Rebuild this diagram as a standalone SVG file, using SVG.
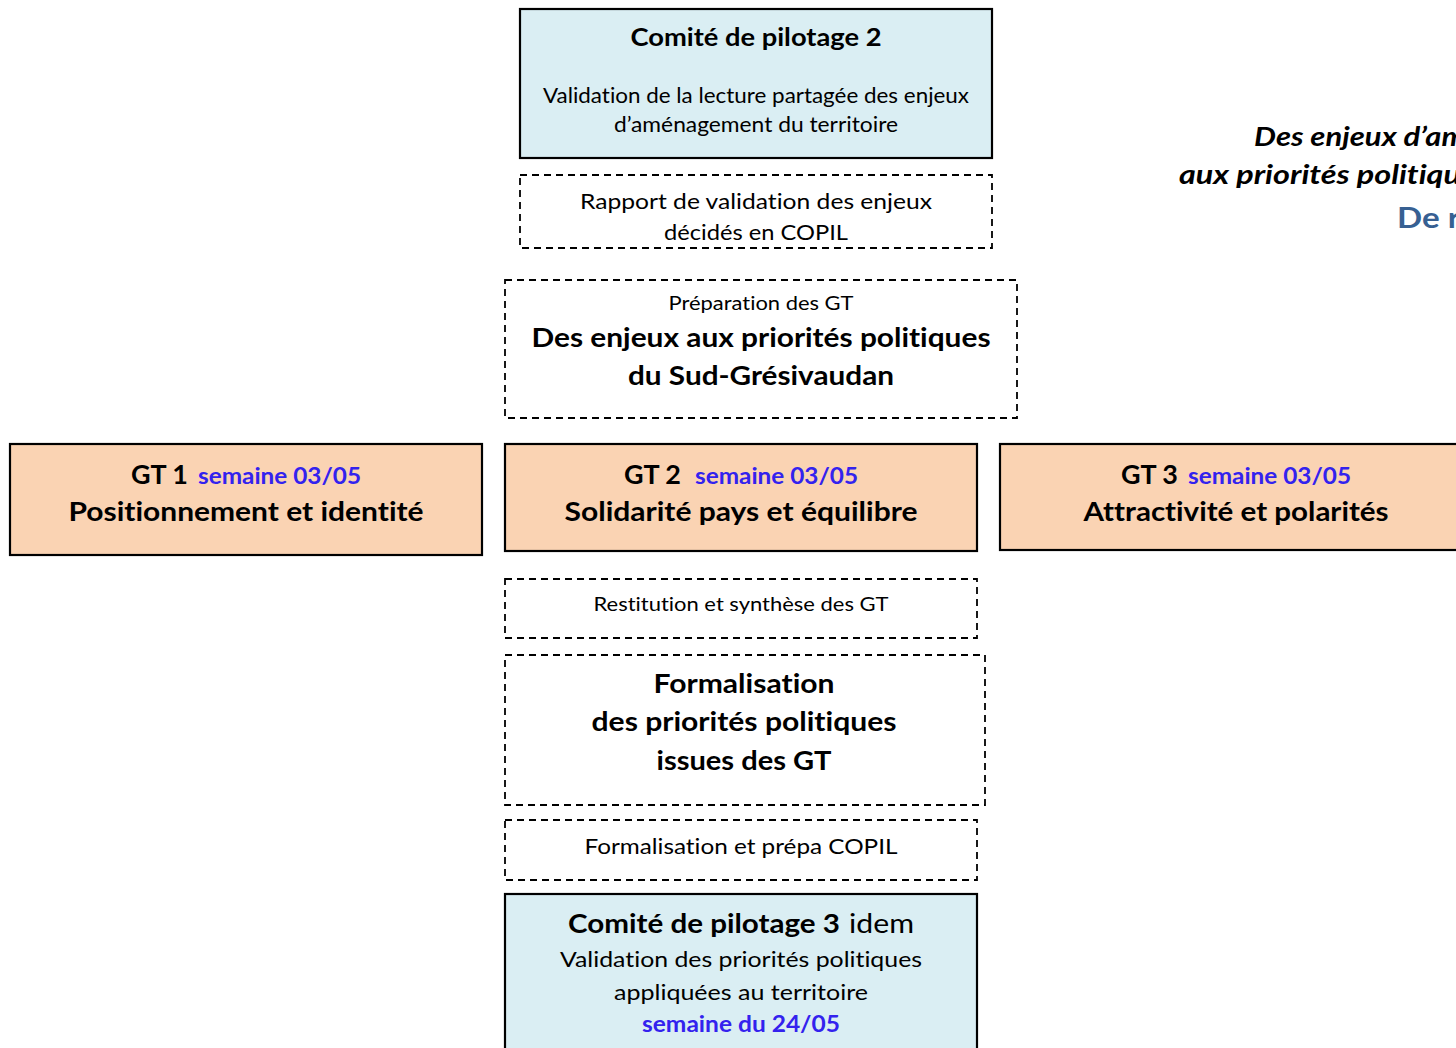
<svg xmlns="http://www.w3.org/2000/svg" width="1456" height="1048" viewBox="0 0 1456 1048">
<style>
text{font-family:Lato,"Open Sans","Liberation Sans",sans-serif;fill:#000;text-anchor:middle;font-variant-ligatures:none}
.b{font-weight:bold}
.s{text-anchor:start}
.blue{fill:#3322EE;font-weight:bold}
.copil{fill:#DAEEF3;stroke:#000;stroke-width:2.2}
.gt{fill:#FAD3B3;stroke:#000;stroke-width:2.2}
.dash{fill:none;stroke:#000;stroke-width:1.8;stroke-dasharray:7 5}
.title{font-weight:bold;font-style:italic;text-anchor:start;font-size:26px}
</style>
<rect width="1456" height="1048" fill="#fff"/>
<g id="title">
<text class="title" x="1254" y="146" textLength="212" lengthAdjust="spacingAndGlyphs">Des enjeux d’am</text>
<text class="title" x="1179" y="184" textLength="282" lengthAdjust="spacingAndGlyphs">aux priorités politiqu</text>
<text x="1397" y="228" textLength="63" lengthAdjust="spacingAndGlyphs" style="text-anchor:start;font-weight:bold;font-size:29px;fill:#376092">De r</text>
</g>
<g id="copil2">
<rect class="copil" x="520" y="9" width="472" height="149"/>
<text class="b" x="756" y="46" font-size="25" textLength="251" lengthAdjust="spacingAndGlyphs">Comité de pilotage 2</text>
<text x="756" y="103" font-size="20.5" textLength="426" lengthAdjust="spacingAndGlyphs">Validation de la lecture partagée des enjeux</text>
<text x="756" y="132" font-size="20.5" textLength="284" lengthAdjust="spacingAndGlyphs">d’aménagement du territoire</text>
</g>
<g id="rapport">
<rect class="dash" x="520" y="175" width="472" height="73"/>
<text x="756" y="209" font-size="22" textLength="352" lengthAdjust="spacingAndGlyphs">Rapport de validation des enjeux</text>
<text x="756" y="240" font-size="22" textLength="184" lengthAdjust="spacingAndGlyphs">décidés en COPIL</text>
</g>
<g id="preparation">
<rect class="dash" x="505" y="280" width="512" height="138"/>
<text x="761" y="310" font-size="19.5" textLength="185" lengthAdjust="spacingAndGlyphs">Préparation des GT</text>
<text class="b" x="761" y="347" font-size="27" textLength="459" lengthAdjust="spacingAndGlyphs">Des enjeux aux priorités politiques</text>
<text class="b" x="761" y="385" font-size="27" textLength="266" lengthAdjust="spacingAndGlyphs">du Sud-Grésivaudan</text>
</g>
<g id="gt1">
<rect class="gt" x="10" y="444" width="472" height="111"/>
<text class="b s" x="131" y="484" font-size="27" textLength="57" lengthAdjust="spacingAndGlyphs">GT 1</text>
<text class="blue s" x="198" y="484" font-size="23" textLength="163" lengthAdjust="spacingAndGlyphs">semaine 03/05</text>
<text class="b" x="246" y="521" font-size="27" textLength="355" lengthAdjust="spacingAndGlyphs">Positionnement et identité</text>
</g>
<g id="gt2">
<rect class="gt" x="505" y="444" width="472" height="107"/>
<text class="b s" x="624" y="484" font-size="27" textLength="57" lengthAdjust="spacingAndGlyphs">GT 2</text>
<text class="blue s" x="695" y="484" font-size="23" textLength="163" lengthAdjust="spacingAndGlyphs">semaine 03/05</text>
<text class="b" x="741" y="521" font-size="27" textLength="353" lengthAdjust="spacingAndGlyphs">Solidarité pays et équilibre</text>
</g>
<g id="gt3">
<rect class="gt" x="1000" y="444" width="470" height="106"/>
<text class="b s" x="1121" y="484" font-size="27" textLength="57" lengthAdjust="spacingAndGlyphs">GT 3</text>
<text class="blue s" x="1188" y="484" font-size="23" textLength="163" lengthAdjust="spacingAndGlyphs">semaine 03/05</text>
<text class="b" x="1236" y="521" font-size="27" textLength="305" lengthAdjust="spacingAndGlyphs">Attractivité et polarités</text>
</g>
<g id="restitution">
<rect class="dash" x="505" y="579" width="472" height="59"/>
<text x="741" y="611" font-size="19.5" textLength="295" lengthAdjust="spacingAndGlyphs">Restitution et synthèse des GT</text>
</g>
<g id="formalisation">
<rect class="dash" x="505" y="655" width="480" height="150"/>
<text class="b" x="744" y="693" font-size="27" textLength="181" lengthAdjust="spacingAndGlyphs">Formalisation</text>
<text class="b" x="744" y="731" font-size="27" textLength="305" lengthAdjust="spacingAndGlyphs">des priorités politiques</text>
<text class="b" x="744" y="770" font-size="27" textLength="175" lengthAdjust="spacingAndGlyphs">issues des GT</text>
</g>
<g id="prepa-copil">
<rect class="dash" x="505" y="820" width="472" height="60"/>
<text x="741" y="854" font-size="21.5" textLength="313" lengthAdjust="spacingAndGlyphs">Formalisation et prépa COPIL</text>
</g>
<g id="copil3">
<rect class="copil" x="505" y="894" width="472" height="170"/>
<text class="b s" x="568" y="933" font-size="27" textLength="272" lengthAdjust="spacingAndGlyphs">Comité de pilotage 3</text>
<text class="s" x="849" y="933" font-size="27" textLength="65" lengthAdjust="spacingAndGlyphs">idem</text>
<text x="741" y="967" font-size="22" textLength="362" lengthAdjust="spacingAndGlyphs">Validation des priorités politiques</text>
<text x="741" y="1000" font-size="22" textLength="254" lengthAdjust="spacingAndGlyphs">appliquées au territoire</text>
<text class="blue" x="741" y="1032" font-size="22" textLength="198" lengthAdjust="spacingAndGlyphs">semaine du 24/05</text>
</g>
<g id="connectors"></g>
</svg>
